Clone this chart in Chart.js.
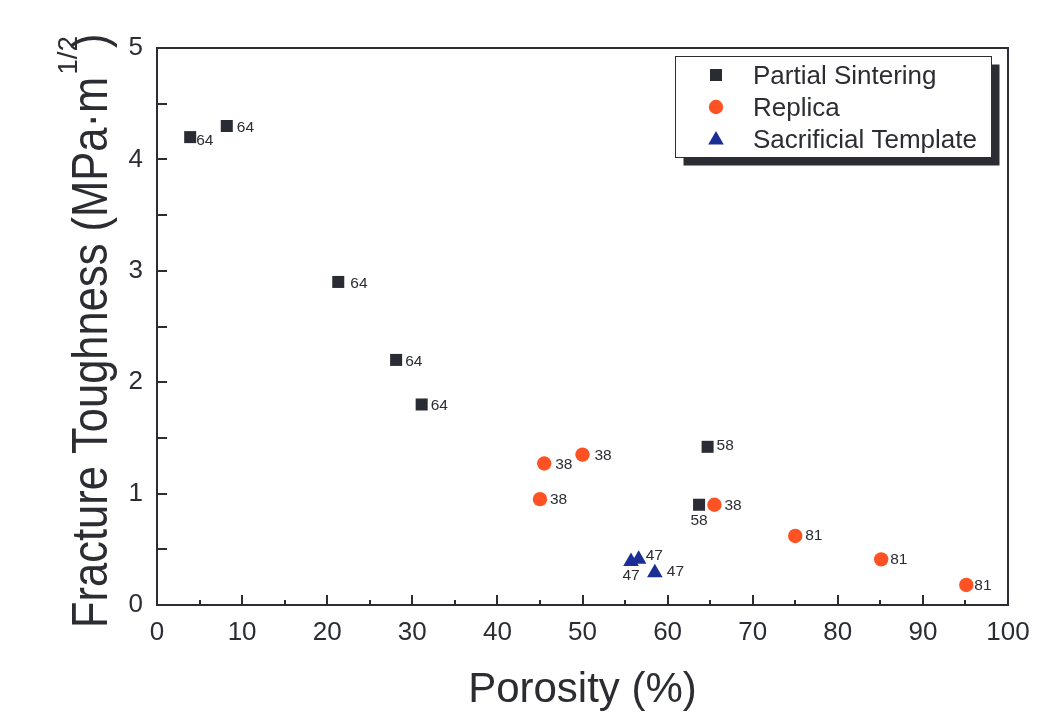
<!DOCTYPE html>
<html>
<head>
<meta charset="utf-8">
<script src="https://cdn.jsdelivr.net/npm/chart.js@4.4.0/dist/chart.umd.min.js"></script>
<style>
html,body{margin:0;padding:0;background:#ffffff;}
#wrap{width:1051px;height:725px;position:relative;}
</style>
</head>
<body>
<div id="wrap"><canvas id="c"></canvas></div>
<script>
// ---- data ----
const SERIES_NAMES = ['Partial Sintering', 'Replica', 'Sacrificial Template'];

const PS_X = [3.9, 8.2, 21.3, 28.1, 31.1, 64.7, 63.7];
const PS_Y = [4.20, 4.30, 2.90, 2.20, 1.80, 1.42, 0.90];
const PS_LABELS = ['64', '64', '64', '64', '64', '58', '58'];

const RE_X = [45.5, 50.0, 45.0, 65.5, 75.0, 85.1, 95.1];
const RE_Y = [1.27, 1.35, 0.95, 0.90, 0.62, 0.41, 0.18];
const RE_LABELS = ['38', '38', '38', '38', '81', '81', '81'];

const ST_X = [55.7, 56.6, 58.5];
const ST_Y = [0.39, 0.41, 0.29];
const ST_LABELS = ['47', '47', '47'];

const X_TICKS = [0, 10, 20, 30, 40, 50, 60, 70, 80, 90, 100];
const Y_TICKS = [0, 1, 2, 3, 4, 5];

const X_TITLE = 'Porosity (%)';
const Y_TITLE_MAIN = 'Fracture Toughness (MPa\u00B7m';
const Y_TITLE_SUP = '1/2';
const Y_TITLE_END = ')';

// ---- styles (kept apart from data) ----
const FONT = '"Liberation Sans", Arial, Helvetica, sans-serif';
const INK = '#2b2d33';
const COLORS = ['#2a2c33', '#fe5224', '#1b2e95'];
const STYLES = ['rect', 'circle', 'triangle'];
const RADII = [8.5, 7.2, 9];
// label placement: [dx, dy, align]
const PS_OFF = [[6, 4, 'left'], [10, 2, 'left'], [12, 2, 'left'], [9, 2, 'left'], [9, 1, 'left'], [9, -1, 'left'], [0, 16, 'center']];
const RE_OFF = [[11, 1, 'left'], [12, 1, 'left'], [10, 1, 'left'], [10, 1, 'left'], [10, 0, 'left'], [9, 0, 'left'], [8, 1, 'left']];
const ST_OFF = [[0, 14, 'center'], [7, -4, 'left'], [12, -1, 'left']];

const LABELS = [PS_LABELS, RE_LABELS, ST_LABELS];
const OFFS = [PS_OFF, RE_OFF, ST_OFF];

function pts(xs, ys) { return xs.map((x, i) => ({x: x, y: ys[i]})); }

function drawMarker(ctx, style, x, y, r, color) {
  ctx.save();
  ctx.fillStyle = color;
  ctx.beginPath();
  if (style === 'rect') {
    const s = Math.SQRT1_2 * r;
    ctx.rect(x - s, y - s, 2 * s, 2 * s);
  } else if (style === 'circle') {
    ctx.arc(x, y, r, 0, Math.PI * 2);
  } else {
    let a = 0;
    ctx.moveTo(x + Math.sin(a) * r, y - Math.cos(a) * r);
    a += 2 * Math.PI / 3;
    ctx.lineTo(x + Math.sin(a) * r, y - Math.cos(a) * r);
    a += 2 * Math.PI / 3;
    ctx.lineTo(x + Math.sin(a) * r, y - Math.cos(a) * r);
    ctx.closePath();
  }
  ctx.fill();
  ctx.restore();
}

const framePlugin = {
  id: 'frame',
  beforeDatasetsDraw(chart) {
    const {ctx, chartArea: a, scales: {x, y}} = chart;
    ctx.save();
    ctx.strokeStyle = INK;
    ctx.lineWidth = 2;
    ctx.strokeRect(a.left, a.top, a.right - a.left, a.bottom - a.top);
    ctx.beginPath();
    for (let i = 0; i < X_TICKS.length; i++) {
      const px = Math.round(x.getPixelForValue(X_TICKS[i]));
      ctx.moveTo(px, a.bottom);
      ctx.lineTo(px, a.bottom - 10);
      if (i < X_TICKS.length - 1) {
        const mx = Math.round(x.getPixelForValue((X_TICKS[i] + X_TICKS[i + 1]) / 2));
        ctx.moveTo(mx, a.bottom);
        ctx.lineTo(mx, a.bottom - 5);
      }
    }
    for (let i = 0; i < Y_TICKS.length; i++) {
      const py = Math.round(y.getPixelForValue(Y_TICKS[i]));
      ctx.moveTo(a.left, py);
      ctx.lineTo(a.left + 10, py);
      if (i < Y_TICKS.length - 1) {
        const my = Math.round(y.getPixelForValue((Y_TICKS[i] + Y_TICKS[i + 1]) / 2));
        ctx.moveTo(a.left, my);
        ctx.lineTo(a.left + 10, my);
      }
    }
    ctx.stroke();
    ctx.restore();
  }
};

const labelPlugin = {
  id: 'pointLabels',
  afterDatasetsDraw(chart) {
    const ctx = chart.ctx;
    ctx.save();
    ctx.font = '15.5px ' + FONT;
    ctx.fillStyle = INK;
    ctx.textBaseline = 'middle';
    chart.data.datasets.forEach((ds, di) => {
      const meta = chart.getDatasetMeta(di);
      meta.data.forEach((el, i) => {
        const o = OFFS[di][i];
        ctx.textAlign = o[2];
        ctx.fillText(LABELS[di][i], el.x + o[0], el.y + o[1]);
      });
    });
    ctx.restore();
  }
};

const legendPlugin = {
  id: 'boxLegend',
  afterDraw(chart) {
    const ctx = chart.ctx;
    const bx = 675.5, by = 56.5, bw = 316, bh = 101, sh = 8;
    ctx.save();
    ctx.fillStyle = INK;
    ctx.fillRect(bx + sh, by + sh, bw, bh);
    ctx.fillStyle = '#ffffff';
    ctx.fillRect(bx, by, bw, bh);
    ctx.strokeStyle = INK;
    ctx.lineWidth = 1;
    ctx.strokeRect(bx, by, bw, bh);
    ctx.font = '26px ' + FONT;
    ctx.textAlign = 'left';
    ctx.textBaseline = 'alphabetic';
    chart.data.datasets.forEach((ds, i) => {
      const cy = 75 + i * 32;
      drawMarker(ctx, STYLES[i], 716, cy + (STYLES[i] === 'triangle' ? 1 : 0), RADII[i], COLORS[i]);
      ctx.fillStyle = INK;
      ctx.fillText(ds.label, 753, cy + 8.5);
    });
    ctx.restore();
  }
};

const yTitlePlugin = {
  id: 'yTitle',
  afterDraw(chart) {
    const ctx = chart.ctx;
    ctx.save();
    ctx.fillStyle = INK;
    ctx.translate(107, 628);
    ctx.rotate(-Math.PI / 2);
    ctx.textAlign = 'left';
    ctx.textBaseline = 'alphabetic';
    ctx.save();
    ctx.scale(1, 1.15);
    ctx.font = '43.5px ' + FONT;
    const w = ctx.measureText(Y_TITLE_MAIN).width;
    ctx.fillText(Y_TITLE_MAIN, 0, 0);
    ctx.restore();
    ctx.font = '28px ' + FONT;
    const sw = ctx.measureText(Y_TITLE_SUP).width;
    ctx.fillText(Y_TITLE_SUP, w + 2, -30);
    ctx.save();
    ctx.scale(1, 1.15);
    ctx.font = '43.5px ' + FONT;
    ctx.fillText(Y_TITLE_END, w + 2 + sw - 12, 0);
    ctx.restore();
    ctx.restore();
  }
};

const datasets = [
  {label: SERIES_NAMES[0], data: pts(PS_X, PS_Y)},
  {label: SERIES_NAMES[1], data: pts(RE_X, RE_Y)},
  {label: SERIES_NAMES[2], data: pts(ST_X, ST_Y)}
].map((d, i) => Object.assign(d, {
  pointStyle: STYLES[i],
  pointRadius: RADII[i],
  pointHoverRadius: RADII[i],
  backgroundColor: COLORS[i],
  borderColor: COLORS[i],
  pointBorderWidth: 0,
  showLine: false
}));

new Chart(document.getElementById('c'), {
  type: 'scatter',
  data: {datasets: datasets},
  plugins: [framePlugin, labelPlugin, legendPlugin, yTitlePlugin],
  options: {
    responsive: true,
    maintainAspectRatio: false,
    devicePixelRatio: 1,
    animation: false,
    events: [],
    layout: {padding: {top: 48, right: 43, left: 0, bottom: 0}},
    plugins: {legend: {display: false}, tooltip: {enabled: false}},
    scales: {
      x: {
        type: 'linear',
        min: 0, max: 100,
        afterBuildTicks: s => { s.ticks = X_TICKS.map(v => ({value: v})); },
        afterFit: s => { s.height = 120; },
        grid: {display: false, drawTicks: false},
        border: {display: false},
        ticks: {color: INK, font: {family: FONT, size: 26}, padding: 12, maxRotation: 0, autoSkip: false},
        title: {display: true, text: X_TITLE, color: INK, font: {family: FONT, size: 42}, padding: {top: 0, bottom: 9}}
      },
      y: {
        type: 'linear',
        min: 0, max: 5,
        afterBuildTicks: s => { s.ticks = Y_TICKS.map(v => ({value: v})); },
        afterFit: s => { s.width = 157; },
        grid: {display: false, drawTicks: false},
        border: {display: false},
        ticks: {color: INK, font: {family: FONT, size: 26}, padding: 14, autoSkip: false},
        title: {display: false}
      }
    }
  }
});
</script>
</body>
</html>
